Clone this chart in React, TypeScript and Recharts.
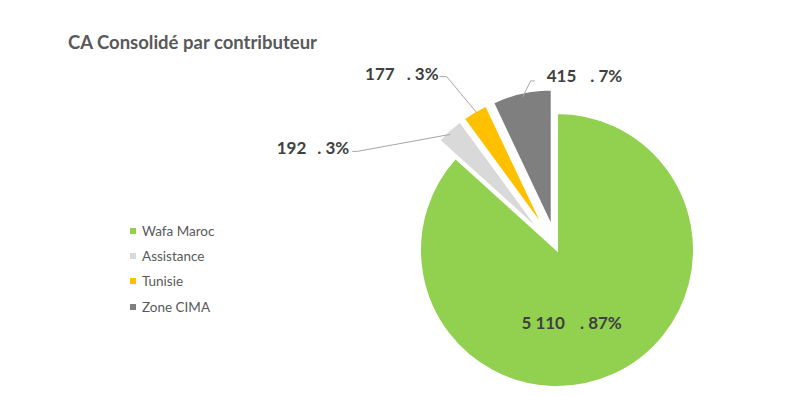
import React from 'react';
import { PieChart, Pie, Cell, Legend } from 'recharts';

// CA consolidé par contributeur
const CATEGORIES = ['Wafa Maroc', 'Assistance', 'Tunisie', 'Zone CIMA'];
const VALUES = [5110, 192, 177, 415];
const COLORS = ['#92d050', '#d9d9d9', '#ffc000', '#7f7f7f'];

const data = CATEGORIES.map((name, i) => ({ name, value: VALUES[i] }));
const TOTAL = VALUES.reduce((a, b) => a + b, 0);

const CX = 557;
const CY = 250;
const R = 137;
const EXPLODE = [0, 24, 24, 24];
const RADIAN = Math.PI / 180;

// angle du milieu de chaque part (sens horaire depuis midi)
const midAngles = (() => {
  let start = 90;
  return VALUES.map(v => {
    const sweep = (v / TOTAL) * 360;
    const mid = start - sweep / 2;
    start -= sweep;
    return mid;
  });
})();

// position des étiquettes par rapport au bord de la part
const LABELS: any[] = [
  { dx: -41, dy: -53, anchor: 'middle', gap: 15 },
  { dx: -100, dy: 17, anchor: 'end', gap: 11, line: [[-97, 21], [-92, 21], [1, 4]] },
  { dx: -36, dy: -39, anchor: 'end', gap: 12, line: [[-35, -35], [-28, -35], [2, 1]] },
  { dx: 25, dy: -18, anchor: 'start', gap: 14, line: [[13, -12], [9, -12], [1, 4]] },
];

const fmt = (v: number) => String(v).replace(/\B(?=(\d{3})+(?!\d))/g, ' ');

const renderLabel = (props: any, only: number) => {
  const { cx, cy, midAngle, outerRadius, index, value, percent } = props;
  if (index !== only) return null;
  const ax = cx + outerRadius * Math.cos(-midAngle * RADIAN);
  const ay = cy + outerRadius * Math.sin(-midAngle * RADIAN);
  const cfg = LABELS[index];
  return (
    <g>
      {cfg.line && (
        <polyline
          points={cfg.line.map(([x, y]: number[]) => `${ax + x},${ay + y}`).join(' ')}
          fill="none"
          stroke="#a6a6a6"
          strokeWidth={1}
        />
      )}
      <text
        x={ax + cfg.dx}
        y={ay + cfg.dy}
        textAnchor={cfg.anchor}
        dominantBaseline="central"
        fill="#404040"
        fontFamily="Lato"
        fontWeight={700}
        fontSize={17}
        style={{ whiteSpace: 'pre' }}
      >
        <tspan>{fmt(value)}</tspan>
        <tspan dx={cfg.gap}>{`. ${Math.round(percent * 100)}%`}</tspan>
      </text>
    </g>
  );
};

const renderLegend = () => (
  <div style={{ fontFamily: 'Lato', fontSize: 13.5, color: '#595959' }}>
    {CATEGORIES.map((c, i) => (
      <div key={c} style={{ height: 25.3, display: 'flex', alignItems: 'center' }}>
        <span style={{ width: 6, height: 6, background: COLORS[i], marginRight: 6, display: 'inline-block' }} />
        <span>{c}</span>
      </div>
    ))}
  </div>
);

const App: React.FC = () => {
  return (
    <div style={{ position: 'absolute', left: 0, top: 0, width: 808, height: 396, background: '#fff' }}>
      <div
        style={{
          position: 'absolute',
          left: 68,
          top: 31,
          fontFamily: 'Lato',
          fontWeight: 700,
          fontSize: 18.5,
          color: '#595959',
          whiteSpace: 'nowrap',
        }}
      >
        CA Consolidé par contributeur
      </div>
      <PieChart width={808} height={396} margin={{ top: 0, right: 0, bottom: 0, left: 0 }}>
        {data.map((_, i) => {
          const mid = midAngles[i];
          const pcx = CX + EXPLODE[i] * Math.cos(-mid * RADIAN);
          const pcy = CY + EXPLODE[i] * Math.sin(-mid * RADIAN);
          return (
            <Pie
              key={i}
              data={data}
              dataKey="value"
              nameKey="name"
              cx={pcx}
              cy={pcy}
              outerRadius={R}
              startAngle={90}
              endAngle={-270}
              isAnimationActive={false}
              labelLine={false}
              label={(p: any) => renderLabel(p, i)}
              legendType="none"
            >
              {data.map((_, j) => (
                <Cell
                  key={j}
                  fill={j === i ? COLORS[j] : 'none'}
                  stroke={j === i ? '#ffffff' : 'none'}
                  strokeWidth={2}
                />
              ))}
            </Pie>
          );
        })}
        <Legend
          layout="horizontal"
          verticalAlign="middle"
          align="right"
          content={renderLegend}
          wrapperStyle={{ left: 130, right: 'auto', top: 218, width: 150 }}
        />
      </PieChart>
    </div>
  );
};

export default App;
